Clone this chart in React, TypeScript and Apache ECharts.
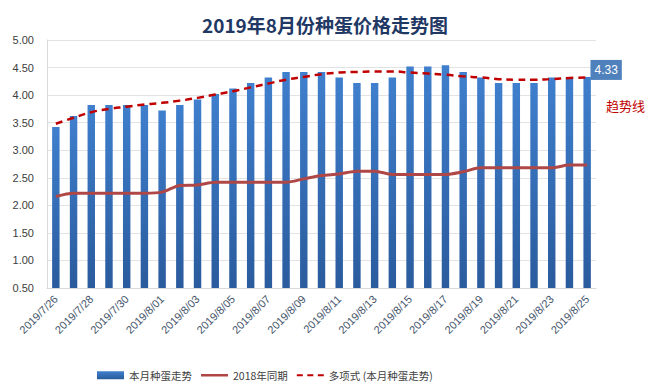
import React, { useEffect, useRef } from 'react';
import * as echarts from 'echarts';

const categories = [
  '2019/7/26', '2019/7/27', '2019/7/28', '2019/7/29', '2019/7/30', '2019/7/31',
  '2019/8/01', '2019/8/02', '2019/8/03', '2019/8/04', '2019/8/05', '2019/8/06',
  '2019/8/07', '2019/8/08', '2019/8/09', '2019/8/10', '2019/8/11', '2019/8/12',
  '2019/8/13', '2019/8/14', '2019/8/15', '2019/8/16', '2019/8/17', '2019/8/18',
  '2019/8/19', '2019/8/20', '2019/8/21', '2019/8/22', '2019/8/23', '2019/8/24',
  '2019/8/25',
];

const currentPrices = [
  3.42, 3.62, 3.82, 3.82, 3.82, 3.82, 3.72, 3.82, 3.92, 4.02, 4.12, 4.22,
  4.32, 4.42, 4.42, 4.42, 4.32, 4.22, 4.22, 4.32, 4.52, 4.52, 4.54, 4.42,
  4.32, 4.22, 4.22, 4.22, 4.32, 4.32, 4.33,
];

const lastYearPrices = [
  2.16, 2.22, 2.22, 2.22, 2.22, 2.22, 2.24, 2.36, 2.37, 2.42, 2.42, 2.42,
  2.42, 2.42, 2.48, 2.54, 2.57, 2.62, 2.62, 2.56, 2.56, 2.56, 2.56, 2.61,
  2.68, 2.68, 2.68, 2.68, 2.68, 2.73, 2.73,
];

const trendValues = [
  3.48, 3.59, 3.69, 3.75, 3.79, 3.83, 3.86, 3.90, 3.95, 4.01, 4.07, 4.14,
  4.21, 4.28, 4.33, 4.38, 4.41, 4.42, 4.43, 4.43, 4.41, 4.39, 4.37, 4.34,
  4.32, 4.29, 4.28, 4.28, 4.29, 4.31, 4.32,
];

const seriesNames = ['本月种蛋走势', '2018年同期', '多项式 (本月种蛋走势)'];
const titleText = '2019年8月份种蛋价格走势图';
const trendNote = '趋势线';

const FONT = '"Liberation Sans", "Noto Sans CJK SC", sans-serif';
const CJK = '"Noto Sans CJK SC", sans-serif';

// legend icons (27 x 8 boxes): a solid stroke and a dashed stroke
const solidIcon =
  'path://M0,0h0.01v0.01h-0.01zM0,2.8h27v2.4h-27zM26.99,7.99h0.01v0.01h-0.01z';
const dashedIcon =
  'path://M0,0h0.01v0.01h-0.01zM0,2.9h6v2.2h-6zM10.5,2.9h6v2.2h-6zM21,2.9h6v2.2h-6zM26.99,7.99h0.01v0.01h-0.01z';

export default function App() {
  const ref = useRef<HTMLDivElement>(null);

  useEffect(() => {
    const chart = echarts.init(ref.current!, null, { renderer: 'svg' });
    const last = currentPrices.length - 1;
    const barData = currentPrices.map((v, i) =>
      i === last
        ? {
            value: v,
            label: {
              show: true,
              position: 'top',
              distance: 0,
              offset: [19, 3],
              formatter: (p: any) => Number(p.value).toFixed(2),
              color: '#ffffff',
              backgroundColor: '#4f81bd',
              padding: [3, 4, 3, 4],
              fontSize: 12,
              lineHeight: 14,
              fontFamily: FONT,
            },
          }
        : v
    );

    chart.setOption({
      animation: false,
      backgroundColor: '#ffffff',
      textStyle: { fontFamily: FONT },
      title: {
        text: titleText,
        left: 'center',
        top: 10,
        textStyle: {
          fontSize: 19,
          fontWeight: 'bold',
          color: '#1f3864',
          fontFamily: CJK,
        },
      },
      grid: { left: 47, right: 54, top: 40, bottom: 102 },
      legend: {
        top: 365,
        left: 92,
        itemWidth: 27,
        itemHeight: 8,
        itemGap: 9,
        textStyle: { fontSize: 10.5, color: '#404040', fontFamily: CJK },
        data: [
          { name: seriesNames[0], icon: 'rect' },
          { name: seriesNames[1], icon: solidIcon },
          { name: seriesNames[2], icon: dashedIcon },
        ],
      },
      xAxis: {
        type: 'category',
        data: categories,
        boundaryGap: true,
        axisTick: { show: false },
        axisLine: { lineStyle: { color: '#d9d9d9' } },
        axisLabel: {
          interval: 1,
          rotate: 45,
          color: '#44546a',
          fontSize: 11,
          margin: 9,
        },
      },
      yAxis: {
        type: 'value',
        min: 0.5,
        max: 5,
        interval: 0.5,
        axisLine: { show: true, lineStyle: { color: '#d9d9d9' } },
        axisTick: { show: false },
        splitLine: { lineStyle: { color: '#e3e3e3' } },
        axisLabel: {
          formatter: (v: number) => v.toFixed(2),
          color: '#404040',
          fontSize: 11,
          margin: 13,
        },
      },
      series: [
        {
          name: seriesNames[0],
          type: 'bar',
          data: barData,
          barWidth: '42%',
          itemStyle: {
            color: new echarts.graphic.LinearGradient(0, 0, 0, 1, [
              { offset: 0, color: '#3f7fcd' },
              { offset: 1, color: '#2a5b9d' },
            ]),
          },
        },
        {
          name: seriesNames[1],
          type: 'line',
          data: lastYearPrices,
          symbol: 'none',
          smooth: 0.3,
          z: 3,
          itemStyle: { color: '#b04747' },
          lineStyle: { color: '#b04747', width: 3 },
        },
        {
          name: seriesNames[2],
          type: 'line',
          data: trendValues,
          symbol: 'none',
          smooth: true,
          z: 4,
          itemStyle: { color: '#c00000' },
          lineStyle: { color: '#c00000', width: 2.5, type: [7, 5] },
        },
      ],
      graphic: [
        {
          type: 'text',
          left: 606,
          top: 99,
          style: {
            text: trendNote,
            fill: '#c00000',
            fontSize: 13,
            fontFamily: CJK,
          },
        },
      ],
    });

    return () => chart.dispose();
  }, []);

  return (
    <div
      ref={ref}
      style={{ position: 'fixed', left: 0, top: 0, width: 650, height: 390, background: '#fff' }}
    />
  );
}
